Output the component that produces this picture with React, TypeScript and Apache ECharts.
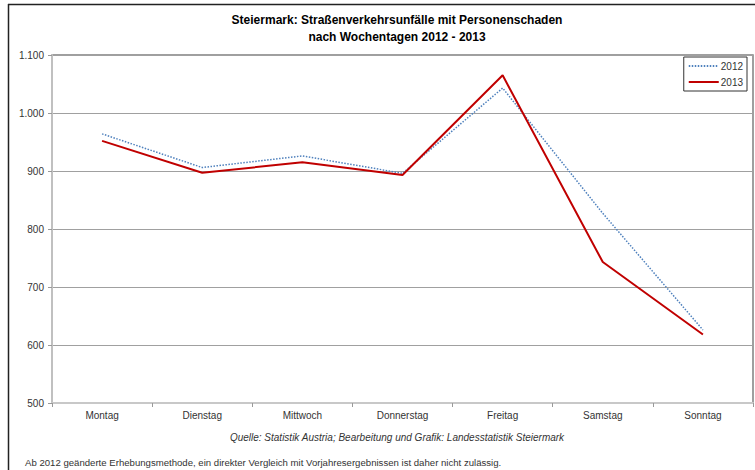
import React, { useEffect, useRef } from "react";
import * as echarts from "echarts";

const days = ["Montag", "Dienstag", "Mittwoch", "Donnerstag", "Freitag", "Samstag", "Sonntag"];
const values2012 = [964, 906, 926, 896, 1043, 827, 626];
const values2013 = [952, 897, 915, 893, 1065, 743, 618];
const seriesNames = ["2012", "2013"];
const titleLines = ["Steiermark: Straßenverkehrsunfälle mit Personenschaden", "nach Wochentagen 2012 - 2013"];
const sourceText = "Quelle: Statistik Austria; Bearbeitung und Grafik: Landesstatistik Steiermark";
const noteText = "Ab 2012 geänderte Erhebungsmethode, ein direkter Vergleich mit Vorjahresergebnissen ist daher nicht zulässig.";

const FONT = "Liberation Sans, Arial, sans-serif";

export default function App() {
  const ref = useRef<HTMLDivElement>(null);
  useEffect(() => {
    if (!ref.current) return;
    const chart = echarts.init(ref.current, undefined, { renderer: "svg" });
    chart.setOption({
      animation: false,
      backgroundColor: "#ffffff",
      textStyle: { fontFamily: FONT },
      grid: {
        left: 52,
        top: 55,
        right: 2,
        bottom: 67,
        show: true,
        borderColor: "#808080",
        borderWidth: 1.5,
        backgroundColor: "transparent",
      },
      legend: {
        orient: "vertical",
        right: 8,
        top: 57,
        data: seriesNames,
        itemWidth: 30,
        itemHeight: 8,
        itemGap: 6,
        padding: [4, 4, 4, 4],
        borderColor: "#333",
        borderWidth: 1,
        backgroundColor: "#fff",
        itemStyle: { opacity: 0 },
        textStyle: { fontSize: 10, color: "#333", fontFamily: FONT, padding: [0, 0, 0, -3] },
      },
      xAxis: {
        type: "category",
        data: days,
        boundaryGap: true,
        axisLine: { show: true, lineStyle: { color: "#c8c8c8", width: 2 } },
        axisTick: { show: true, interval: 0, length: 4, lineStyle: { color: "#999" } },
        axisLabel: { fontSize: 10, color: "#333", margin: 7, interval: 0, fontFamily: FONT },
        splitLine: { show: false },
      },
      yAxis: {
        type: "value",
        min: 500,
        max: 1100,
        interval: 100,
        axisLine: { show: true, lineStyle: { color: "#c0c0c0", width: 2 } },
        axisTick: { show: true, length: 4, lineStyle: { color: "#999" } },
        axisLabel: {
          fontSize: 10,
          color: "#333",
          margin: 8,
          fontFamily: FONT,
          formatter: (v: number) => {
            const s = String(v);
            return s.length > 3 ? s.slice(0, s.length - 3) + "." + s.slice(-3) : s;
          },
        },
        splitLine: { show: true, lineStyle: { color: "#a0a0a0", width: 1 } },
      },
      series: [
        {
          name: seriesNames[0],
          type: "line",
          data: values2012,
          symbol: "none",
          lineStyle: { color: "#4f81bd", width: 1.5, type: [1.5, 1.5] },
          itemStyle: { color: "#4f81bd" },
        },
        {
          name: seriesNames[1],
          type: "line",
          data: values2013,
          symbol: "none",
          lineStyle: { color: "#c00000", width: 2 },
          itemStyle: { color: "#c00000" },
        },
      ],
      graphic: [
        { type: "line", shape: { x1: 8.5, y1: 4, x2: 8.5, y2: 470 }, style: { stroke: "#222", lineWidth: 1.5 } },
        { type: "line", shape: { x1: 8, y1: 4.5, x2: 755, y2: 4.5 }, style: { stroke: "#222", lineWidth: 1.5 } },
        {
          type: "text",
          x: 397,
          y: 20,
          style: { text: titleLines[0], font: `bold 12px ${FONT}`, fill: "#000", align: "center", verticalAlign: "middle" },
        },
        {
          type: "text",
          x: 397,
          y: 37,
          style: { text: titleLines[1], font: `bold 12px ${FONT}`, fill: "#000", align: "center", verticalAlign: "middle" },
        },
        {
          type: "text",
          x: 397,
          y: 437,
          style: { text: sourceText, font: `italic 10px ${FONT}`, fill: "#333", align: "center", verticalAlign: "middle" },
        },
        {
          type: "text",
          x: 25,
          y: 462,
          style: { text: noteText, font: `9.6px ${FONT}`, fill: "#333", align: "left", verticalAlign: "middle" },
        },
      ],
    });
    return () => chart.dispose();
  }, []);
  return <div ref={ref} style={{ position: "fixed", left: 0, top: 0, width: 755, height: 470 }} />;
}
